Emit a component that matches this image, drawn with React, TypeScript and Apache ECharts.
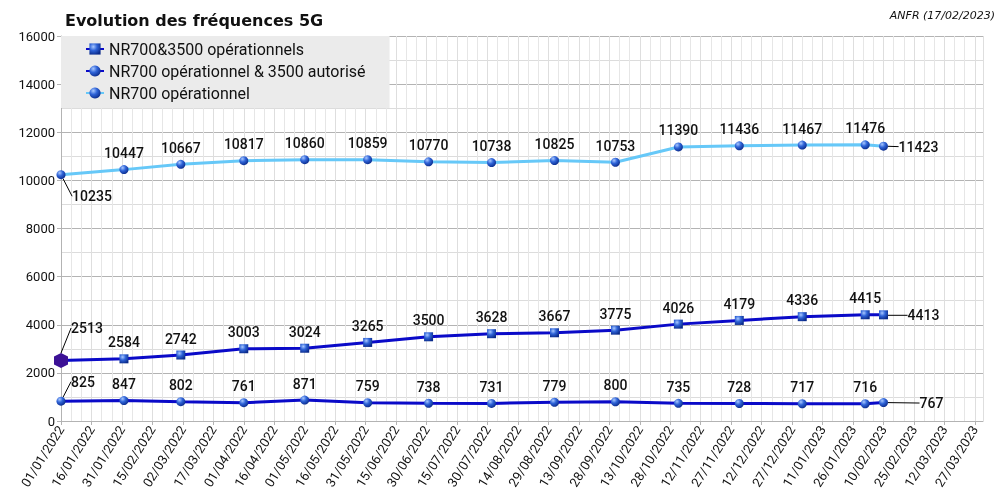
import React, { useEffect, useRef } from "react";
import * as echarts from "echarts";

const dates = [
  "2022-01-01", "2022-02-01", "2022-03-01", "2022-04-01", "2022-05-01",
  "2022-06-01", "2022-07-01", "2022-08-01", "2022-09-01", "2022-10-01",
  "2022-11-01", "2022-12-01", "2023-01-01", "2023-02-01", "2023-02-10",
];
const nr700Op = [10235, 10447, 10667, 10817, 10860, 10859, 10770, 10738, 10825, 10753, 11390, 11436, 11467, 11476, 11423];
const nr700and3500Op = [2513, 2584, 2742, 3003, 3024, 3265, 3500, 3628, 3667, 3775, 4026, 4179, 4336, 4415, 4413];
const nr700OpAut = [825, 847, 802, 761, 871, 759, 738, 731, 779, 800, 735, 728, 717, 716, 767];
const seriesNames = ["NR700&3500 opérationnels", "NR700 opérationnel & 3500 autorisé", "NR700 opérationnel"];

const axisStart = "2022-01-01";
const axisEnd = "2023-03-31";
const DAY = 86400000;

const toUTC = (s: string) => {
  const [y, m, d] = s.split("-").map(Number);
  return Date.UTC(y, m - 1, d);
};
const dayIndex = (s: string) => Math.round((toUTC(s) - toUTC(axisStart)) / DAY);
const fmtDay = (v: number) => {
  const d = new Date(toUTC(axisStart) + v * DAY);
  const p = (n: number) => (n < 10 ? "0" + n : "" + n);
  return p(d.getUTCDate()) + "/" + p(d.getUTCMonth() + 1) + "/" + d.getUTCFullYear();
};

const sphere = {
  type: "radial" as const,
  x: 0.35,
  y: 0.3,
  r: 0.75,
  colorStops: [
    { offset: 0, color: "#a9c8ff" },
    { offset: 0.45, color: "#2f64d8" },
    { offset: 1, color: "#0a2a8a" },
  ],
};
const cubePath = "path://M5 0 L10 2.6 L10 8.4 L5 11 L0 8.4 L0 2.6 Z";

const labelFont = { fontFamily: "Roboto", fontSize: 14, fontWeight: 500 as const, color: "#111" };

export default function App() {
  const ref = useRef<HTMLDivElement>(null);
  useEffect(() => {
    if (!ref.current) return;
    const chart = echarts.init(ref.current, undefined, { renderer: "svg" });
    const xs = dates.map(dayIndex);
    const last = dates.length - 1;
    const mk = (vals: number[]) => vals.map((v, i) => [xs[i], v]);

    const firstLast = (dxFirst: number, dyFirst: number, dxLast: number, dyLast: number) =>
      (p: any) => {
        if (p.dataIndex === 0) return { dx: dxFirst, dy: dyFirst };
        if (p.dataIndex === last) return { dx: dxLast, dy: dyLast };
        return {};
      };

    const withLines = (vals: number[], first?: any) =>
      mk(vals).map((v, i) => {
        const item: any = { value: v };
        if (i === 0 || i === last) item.labelLine = { show: true };
        if (i === 0 && first) Object.assign(item, first);
        return item;
      });

    const common = {
      type: "line" as const,
      label: { show: true, position: "top" as const, distance: 5, ...labelFont },
      labelLine: { show: false, lineStyle: { color: "#000", width: 1 } },
      z: 3,
    };

    chart.setOption({
      animation: false,
      title: [
        {
          text: "Evolution des fréquences 5G",
          left: 60,
          top: 7,
          textStyle: { fontFamily: "DejaVu Sans", fontSize: 16, fontWeight: "bold", color: "#111" },
        },
        {
          text: "ANFR (17/02/2023)",
          right: 8,
          top: 5,
          textStyle: { fontFamily: "DejaVu Sans", fontSize: 11, fontStyle: "italic", fontWeight: "normal", color: "#111" },
        },
      ],
      legend: {
        left: 61,
        top: 36,
        orient: "vertical",
        padding: [5, 24, 7, 24],
        itemGap: 6,
        itemWidth: 18,
        itemHeight: 14,
        backgroundColor: "#ebebeb",
        textStyle: { fontFamily: "Roboto", fontSize: 16, color: "#111" },
        data: seriesNames,
      },
      grid: { left: 61, right: 25, top: 36, bottom: 75, containLabel: false },
      xAxis: {
        type: "value",
        min: 0,
        max: dayIndex(axisEnd),
        interval: 15,
        axisLine: { show: true, onZero: false, lineStyle: { color: "#b3b3b3" } },
        axisTick: { show: true, length: 4, lineStyle: { color: "#b3b3b3" } },
        axisLabel: {
          rotate: 58,
          formatter: (v: number) => fmtDay(v),
          showMaxLabel: false,
          fontFamily: "Roboto",
          fontSize: 13,
          color: "#111",
          margin: 6,
        },
        splitLine: { show: true, lineStyle: { color: "#dedede" } },
        minorTick: { show: false, splitNumber: 3 },
        minorSplitLine: { show: true, lineStyle: { color: "#e6e6e6" } },
      },
      yAxis: {
        type: "value",
        min: 0,
        max: 16000,
        interval: 2000,
        axisLine: { show: true, lineStyle: { color: "#b3b3b3" } },
        axisTick: { show: true, length: 4, lineStyle: { color: "#b3b3b3" } },
        axisLabel: {
          fontFamily: "Roboto",
          fontSize: 13,
          color: "#111",
          margin: 6,
          formatter: (v: number) => String(v),
        },
        splitLine: { show: true, lineStyle: { color: "#b3b3b3" } },
        minorTick: { show: false, splitNumber: 2 },
        minorSplitLine: { show: true, lineStyle: { color: "#dcdcdc" } },
      },
      series: [
        {
          ...common,
          name: seriesNames[0],
          symbol: "rect",
          symbolSize: 9,
          lineStyle: { color: "#0a0ac8", width: 3 },
          itemStyle: { color: sphere },
          data: withLines(nr700and3500Op, {
            symbol: cubePath,
            symbolSize: [14, 15],
            itemStyle: { color: "#3c1196" },
          }),
          labelLayout: firstLast(26, -13, 40, 17),
        },
        {
          ...common,
          name: seriesNames[1],
          symbol: "circle",
          symbolSize: 9,
          lineStyle: { color: "#0a0ac8", width: 3 },
          itemStyle: { color: sphere },
          data: withLines(nr700OpAut),
          labelLayout: firstLast(22, -3, 48, 17),
        },
        {
          ...common,
          name: seriesNames[2],
          symbol: "circle",
          symbolSize: 9,
          lineStyle: { color: "#66c8f8", width: 3 },
          itemStyle: { color: sphere },
          data: withLines(nr700Op),
          labelLayout: firstLast(31, 38, 35, 17),
        },
      ],
    });
    return () => chart.dispose();
  }, []);
  return <div ref={ref} style={{ position: "fixed", left: 0, top: 0, width: 1008, height: 496 }} />;
}
